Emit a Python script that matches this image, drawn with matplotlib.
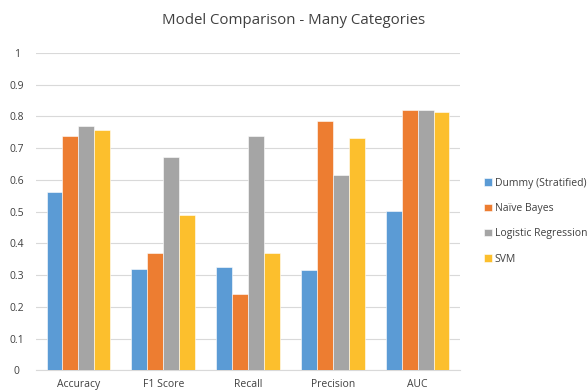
import matplotlib
matplotlib.use("Agg")
import matplotlib.pyplot as plt
import numpy as np

plt.rcParams['font.family'] = ['Open Sans', 'DejaVu Sans']

categories = ["Accuracy", "F1 Score", "Recall", "Precision", "AUC"]
series_names = ["Dummy (Stratified)", "Naïve Bayes", "Logistic Regression", "SVM"]
dummy = [0.563, 0.320, 0.325, 0.316, 0.502]
naive_bayes = [0.740, 0.371, 0.240, 0.786, 0.820]
logistic = [0.769, 0.672, 0.740, 0.615, 0.820]
svm = [0.757, 0.488, 0.370, 0.733, 0.815]
yticks = [0, 0.1, 0.2, 0.3, 0.4, 0.5, 0.6, 0.7, 0.8, 0.9, 1]
ytick_labels = ["0", "0.1", "0.2", "0.3", "0.4", "0.5", "0.6", "0.7", "0.8", "0.9", "1"]

colors = ["#5B9BD5", "#ED7D31", "#A5A5A5", "#FCBF2D"]
all_series = [dummy, naive_bayes, logistic, svm]

fig = plt.figure(figsize=(5.87, 3.92), dpi=100)
ax = fig.add_axes([0.0613, 0.0553, 0.7224, 0.8095])

x = np.arange(len(categories))
group_w = 0.75
bw = group_w / len(all_series)
for i, (vals, name, c) in enumerate(zip(all_series, series_names, colors)):
    ax.bar(x - group_w / 2 + bw * (i + 0.5), vals, width=bw, color=c,
           edgecolor="white", linewidth=0.4, label=name, zorder=3)

ax.set_xlim(-0.5, len(categories) - 0.5)
ax.set_ylim(0, 1)
ax.set_yticks(yticks)
ax.set_yticklabels(ytick_labels)
ax.set_xticks(x)
ax.set_xticklabels(categories)
ax.yaxis.grid(True, color="#D9D9D9", linewidth=0.8, zorder=0)
ax.set_axisbelow(True)
for s in ["top", "right", "left"]:
    ax.spines[s].set_visible(False)
ax.spines["bottom"].set_color("#D9D9D9")
ax.spines["bottom"].set_linewidth(0.8)
ax.tick_params(axis="both", length=0, labelsize=7.5, colors="#404040")
ax.tick_params(axis="y", pad=14)
ax.tick_params(axis="x", pad=6)
for lbl in ax.get_yticklabels():
    lbl.set_horizontalalignment("center")

fig.text(0.5, 0.947, "Model Comparison - Many Categories", ha="center", va="center",
         fontsize=10.8, color="#404040")

leg = fig.legend(loc="center left", bbox_to_anchor=(0.818, 0.436), frameon=False,
                 fontsize=7.5, handlelength=0.7, handleheight=0.7, handletextpad=0.3,
                 labelspacing=1.38, borderaxespad=0)
for t in leg.get_texts():
    t.set_color("#404040")

fig.savefig("out.png", dpi=100)
